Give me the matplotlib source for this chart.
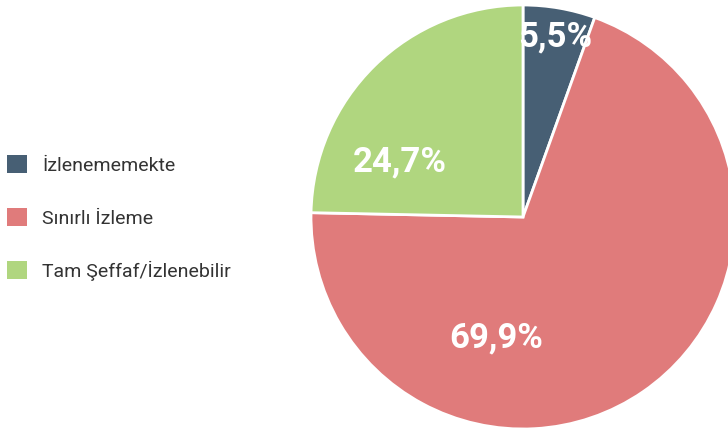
import matplotlib
matplotlib.use("Agg")
import matplotlib.pyplot as plt
from matplotlib.patches import Patch

categories = ["İzlenememekte", "Sınırlı İzleme", "Tam Şeffaf/İzlenebilir"]
values = [5.5, 69.9, 24.7]
labels = ["5,5%", "69,9%", "24,7%"]
colors = ["#475f74", "#e07b7b", "#b0d67f"]

# label anchor positions in pie data units (radius = 1)
label_pos = [(0.151, 0.849), (-0.127, -0.571), (-0.580, 0.259)]

W, H = 728, 428
fig = plt.figure(figsize=(W / 100, H / 100), dpi=100)
cx, cy, r = 523, 217, 212
ax = fig.add_axes([(cx - r) / W, (H - cy - r) / H, 2 * r / W, 2 * r / H])
wedges, _ = ax.pie(values, colors=colors, startangle=90, counterclock=False,
                   radius=1, wedgeprops=dict(edgecolor="white", linewidth=2))
ax.set_xlim(-1, 1)
ax.set_ylim(-1, 1)
ax.set_aspect("auto")
ax.axis("off")

for lab, (x, y) in zip(labels, label_pos):
    ax.text(x, y, lab, ha="center", va="center",
            color="white", fontsize=25, fontweight="bold", family="Roboto",
            clip_on=False)

handles = [Patch(facecolor=c, edgecolor="none") for c in colors]
fig.legend(handles, categories, loc="center left",
           bbox_to_anchor=(7 / W, (H - 218) / H), frameon=False,
           handlelength=1.05, handleheight=1.05,
           handletextpad=0.75, labelspacing=1.7, borderaxespad=0, borderpad=0,
           labelcolor="#333333", prop={"family": "Roboto", "size": 14})

fig.savefig("out.png", dpi=100)
